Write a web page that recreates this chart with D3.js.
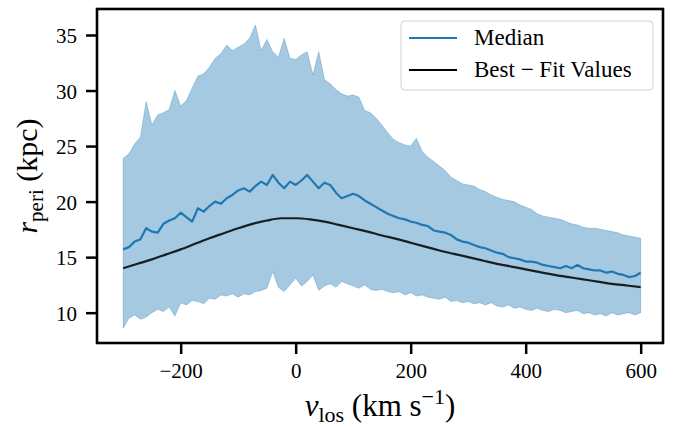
<!DOCTYPE html>
<html>
<head>
<meta charset="utf-8">
<script src="https://cdn.jsdelivr.net/npm/d3@7"></script>
<style>
  body { margin: 0; background: white; }
  svg text { font-family: "Liberation Serif", "DejaVu Serif", serif; fill: black; }
</style>
</head>
<body>
<div id="chart"></div>
<script>
// v_los grid (km/s) for the band and median, step 10
const vGrid = d3.range(-300, 601, 10);

const upperBand = [
  23.9, 24.3, 25.2, 25.8, 29.0, 26.9, 27.8, 28.0, 28.3, 30.0,
  28.6, 29.1, 30.2, 31.3, 31.5, 32.1, 32.9, 33.3, 34.1, 33.6,
  33.9, 34.2, 34.7, 35.9, 33.6, 34.6, 33.5, 33.0, 34.7, 32.9,
  32.8, 33.2, 33.5, 31.4, 33.5, 31.0, 30.6, 30.1, 29.7, 29.5,
  29.6, 29.4, 28.2, 28.0, 27.5, 26.9, 26.2, 25.6, 25.3, 25.1,
  25.0, 25.7, 24.5, 24.0, 23.6, 23.2, 22.8, 22.2, 21.9, 21.6,
  21.5, 21.4, 21.1, 20.9, 20.6, 20.4, 20.2, 20.1, 20.0, 19.7,
  19.5, 19.3, 18.9, 18.7, 18.6, 18.5, 18.4, 18.2, 18.0, 17.9,
  17.7, 17.6, 17.6, 17.5, 17.4, 17.3, 17.2, 17.0, 16.9, 16.8,
  16.7
];

const lowerBand = [
  8.6, 9.5, 9.8, 9.4, 9.6, 10.0, 10.3, 10.1, 10.5, 9.7,
  10.9, 10.7, 11.1, 11.0, 10.8, 11.3, 11.2, 11.6, 11.5, 11.7,
  11.4, 11.7, 11.6, 11.9, 12.0, 12.2, 13.7, 12.3, 11.9, 12.5,
  13.1, 12.4, 12.8, 13.4, 12.0, 12.4, 12.6, 12.3, 12.8, 12.6,
  12.4, 12.2, 12.5, 12.1, 12.0, 12.1, 11.9, 11.8, 11.9, 11.6,
  11.8, 11.5, 11.6, 11.4, 11.3, 11.2, 11.4, 11.0, 11.1, 10.9,
  11.0, 10.8, 10.9, 10.7, 10.9, 10.6, 10.5, 10.7, 10.4, 10.5,
  10.3, 10.2, 10.4, 10.2, 10.1, 10.3, 10.2, 10.0, 10.1, 10.2,
  9.9, 10.0, 9.8, 9.9, 9.7, 10.0, 9.8, 9.9, 10.0, 9.8,
  10.0
];

const medianVals = [
  15.7, 15.9, 16.4, 16.6, 17.6, 17.3, 17.2, 18.0, 18.3, 18.5,
  19.0, 18.6, 18.2, 19.4, 19.1, 19.6, 20.0, 19.8, 20.3, 20.6,
  21.0, 21.2, 20.9, 21.4, 21.8, 21.5, 22.4, 21.7, 21.2, 21.8,
  21.5, 21.9, 22.4, 21.8, 21.2, 21.7, 21.5, 20.8, 20.3, 20.5,
  20.7, 20.5, 20.1, 19.8, 19.5, 19.2, 18.9, 18.7, 18.5, 18.4,
  18.2, 18.1, 17.9, 17.8, 17.4, 17.3, 17.2, 17.0, 16.6, 16.4,
  16.3, 16.1, 15.9, 15.8, 15.6, 15.4, 15.3, 15.0, 14.9, 14.8,
  14.6, 14.6, 14.5, 14.3, 14.2, 14.1, 14.0, 14.2, 14.0, 14.3,
  14.0, 13.9, 13.8, 13.8, 13.6, 13.7, 13.5, 13.4, 13.2, 13.3,
  13.6
];

// best-fit curve, step 25
const fitV = d3.range(-300, 601, 25);
const fitVals = [
  14.0, 14.4, 14.8, 15.25, 15.7, 16.2, 16.7, 17.15, 17.6, 18.0,
  18.3, 18.5, 18.5, 18.4, 18.2, 17.9, 17.6, 17.3, 16.95, 16.65,
  16.3, 15.95, 15.6, 15.3, 15.0, 14.7, 14.4, 14.15, 13.9, 13.65,
  13.4, 13.2, 13.0, 12.8, 12.6, 12.45, 12.3
];

const xTicks = [-200, 0, 200, 400, 600];
const yTicks = [10, 15, 20, 25, 30, 35];
const legendLabels = ["Median", "Best \u2212 Fit Values"];

const layout = { width: 673, height: 427, left: 97, right: 663, top: 9, bottom: 343 };

let svg = d3.select("#chart").append("svg")
    .attr("width", layout.width)
    .attr("height", layout.height);

let xScale = d3.scaleLinear().domain([-345.5, 638.8]).range([layout.left, layout.right]);
let yScale = d3.scaleLinear().domain([7.27, 37.34]).range([layout.bottom, layout.top]);

let bandRows = vGrid.map((v, i) => ({ v: v, lo: lowerBand[i], hi: upperBand[i], med: medianVals[i] }));
let fitRows = fitV.map((v, i) => ({ v: v, r: fitVals[i] }));

// shaded band
svg.append("path")
    .datum(bandRows)
    .attr("fill", "#1f77b4")
    .attr("fill-opacity", 0.4)
    .attr("stroke", "#1f77b4")
    .attr("stroke-opacity", 0.3)
    .attr("stroke-width", 1)
    .attr("d", d3.area()
        .x(d => xScale(d.v))
        .y0(d => yScale(d.lo))
        .y1(d => yScale(d.hi)));

// median
svg.append("path")
    .datum(bandRows)
    .attr("fill", "none")
    .attr("stroke", "#1f77b4")
    .attr("stroke-width", 2.2)
    .attr("stroke-linejoin", "round")
    .attr("d", d3.line().x(d => xScale(d.v)).y(d => yScale(d.med)));

// best fit
svg.append("path")
    .datum(fitRows)
    .attr("fill", "none")
    .attr("stroke", "black")
    .attr("stroke-opacity", 0.85)
    .attr("stroke-width", 2.2)
    .attr("d", d3.line().curve(d3.curveMonotoneX).x(d => xScale(d.v)).y(d => yScale(d.r)));

// axes
let xAxis = svg.append("g")
    .attr("transform", `translate(0,${layout.bottom})`)
    .call(d3.axisBottom(xScale).tickValues(xTicks).tickSize(11).tickPadding(9)
        .tickFormat(d => d < 0 ? "\u2212" + Math.abs(d) : d));
let yAxis = svg.append("g")
    .attr("transform", `translate(${layout.left},0)`)
    .call(d3.axisLeft(yScale).tickValues(yTicks).tickSize(11).tickPadding(9));

[xAxis, yAxis].forEach(ax => {
    ax.attr("font-family", null);
    ax.select(".domain").remove();
    ax.selectAll(".tick line").attr("stroke", "black").attr("stroke-width", 2.5);
    ax.selectAll("text").attr("font-size", 21).attr("fill", "black");
});
yAxis.selectAll("text").attr("dy", "0.36em");

// frame
svg.append("rect")
    .attr("x", layout.left)
    .attr("y", layout.top)
    .attr("width", layout.right - layout.left)
    .attr("height", layout.bottom - layout.top)
    .attr("fill", "none")
    .attr("stroke", "black")
    .attr("stroke-width", 2.6);

// axis titles
let xt = svg.append("text")
    .attr("x", (layout.left + layout.right) / 2)
    .attr("y", 416)
    .attr("text-anchor", "middle")
    .attr("font-size", 31);
xt.append("tspan").attr("font-style", "italic").text("v");
xt.append("tspan").attr("font-size", 22).attr("dy", 6).text("los");
xt.append("tspan").attr("dy", -6).text(" (km s");
xt.append("tspan").attr("font-size", 22).attr("dy", -12).text("\u22121");
xt.append("tspan").attr("dy", 12).text(")");

let yt = svg.append("text")
    .attr("transform", `translate(37,${(layout.top + layout.bottom) / 2}) rotate(-90)`)
    .attr("text-anchor", "middle")
    .attr("font-size", 30);
yt.append("tspan").attr("font-style", "italic").text("r");
yt.append("tspan").attr("font-size", 21).attr("dy", 6).text("peri");
yt.append("tspan").attr("dy", -6).text(" (kpc)");

// legend
let legend = svg.append("g");
legend.append("rect")
    .attr("x", 401).attr("y", 21)
    .attr("width", 252).attr("height", 69)
    .attr("rx", 4)
    .attr("fill", "white").attr("fill-opacity", 0.8)
    .attr("stroke", "#d0d0d0").attr("stroke-width", 1);
let legendColors = ["#1f77b4", "black"];
legendLabels.forEach((lab, i) => {
    let ly = 38 + i * 32;
    legend.append("line")
        .attr("x1", 409).attr("x2", 457)
        .attr("y1", ly).attr("y2", ly)
        .attr("stroke", legendColors[i])
        .attr("stroke-width", 2.2);
    legend.append("text")
        .attr("x", 474).attr("y", ly + 7)
        .attr("font-size", 23)
        .text(lab);
});
</script>
</body>
</html>
